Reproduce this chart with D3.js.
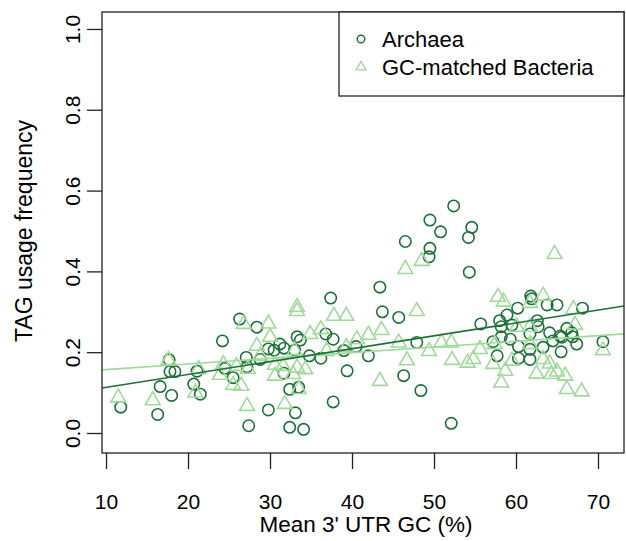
<!DOCTYPE html>
<html>
<head>
<meta charset="utf-8">
<script src="https://d3js.org/d3.v7.min.js"></script>
<style>
  body { margin: 0; background: #fff; }
  text { font-family: "Liberation Sans", Arial, Helvetica, sans-serif; fill: #000; }
</style>
</head>
<body>
<div id="chart-area"></div>
<script>
// values
let archaeaGC = [26.3, 28.4, 24.2, 17.7, 17.8, 18.4, 21.1, 16.6, 20.7, 21.5, 18.0, 11.8, 16.3,
    24.5, 25.5, 27.1, 27.2, 28.8, 29.8, 30.5, 31.2, 31.7, 27.4, 29.8,
    52.4, 49.5, 50.8, 54.6, 54.2, 46.5, 49.5, 49.4, 54.3, 43.4, 37.4, 61.8, 61.9, 63.8, 65.0,
    43.7, 45.7, 33.3, 33.7, 36.8, 37.7, 33.0, 34.8, 36.2, 39.0, 40.5, 42.0, 47.9, 39.4, 31.7,
    46.3, 48.4, 32.4, 33.5, 37.7, 33.1, 32.4, 34.1, 52.1,
    60.2, 68.1, 55.7, 58.0, 58.2, 58.9, 59.5, 62.6, 62.7, 66.2, 64.1, 65.4, 66.8, 66.9, 61.7,
    58.2, 59.3, 57.2, 64.5, 65.6, 67.4, 70.6, 60.3, 61.7, 63.3, 65.5, 57.7, 60.3, 61.7];
let archaeaTAG = [0.282, 0.262, 0.228, 0.181, 0.152, 0.152, 0.153, 0.115, 0.121, 0.096, 0.093, 0.064, 0.046,
    0.160, 0.137, 0.187, 0.164, 0.182, 0.208, 0.205, 0.220, 0.210, 0.018, 0.057,
    0.562, 0.527, 0.498, 0.509, 0.484, 0.474, 0.457, 0.436, 0.398, 0.361, 0.334, 0.339, 0.332, 0.317, 0.317,
    0.300, 0.286, 0.238, 0.230, 0.245, 0.232, 0.205, 0.191, 0.185, 0.204, 0.214, 0.191, 0.224, 0.154, 0.148,
    0.142, 0.105, 0.108, 0.113, 0.077, 0.050, 0.014, 0.009, 0.024,
    0.309, 0.309, 0.270, 0.278, 0.263, 0.292, 0.267, 0.278, 0.263, 0.259, 0.248, 0.240, 0.248, 0.238, 0.245,
    0.238, 0.232, 0.226, 0.228, 0.237, 0.220, 0.226, 0.214, 0.207, 0.212, 0.201, 0.191, 0.185, 0.182];

let bacteriaGC = [26.8, 29.8, 30.0, 28.4, 17.6, 21.3, 24.3, 23.9, 25.9, 25.5, 26.5, 27.2, 20.9, 11.5,
    15.7, 30.6, 30.6, 27.3, 28.8, 46.5, 48.5,
    33.3, 33.3, 37.8, 39.3, 47.9, 43.6, 36.2, 34.9, 40.6, 42.0, 45.7, 49.4, 33.0, 36.9, 39.3,
    46.7, 31.6, 33.3, 34.3, 32.8, 43.4, 33.5, 31.8,
    64.7, 57.8, 58.5, 63.3, 61.7, 67.0, 67.2, 60.1, 61.7, 50.9, 52.1, 55.6, 57.4, 61.7, 70.6,
    52.2, 54.1, 54.8, 57.2, 59.5, 63.3, 58.7, 62.5, 64.1, 64.3, 65.0, 66.0, 58.2, 66.2, 68.0];
let bacteriaTAG = [0.272, 0.273, 0.240, 0.218, 0.183, 0.160, 0.173, 0.146, 0.168, 0.121, 0.119, 0.069, 0.102, 0.090,
    0.083, 0.171, 0.144, 0.161, 0.193, 0.408, 0.428,
    0.314, 0.304, 0.292, 0.292, 0.304, 0.257, 0.259, 0.247, 0.234, 0.245, 0.226, 0.205, 0.207, 0.205, 0.215,
    0.182, 0.168, 0.164, 0.160, 0.148, 0.131, 0.111, 0.074,
    0.445, 0.339, 0.327, 0.342, 0.324, 0.309, 0.270, 0.265, 0.265, 0.226, 0.226, 0.210, 0.222, 0.222, 0.207,
    0.183, 0.176, 0.185, 0.173, 0.181, 0.185, 0.156, 0.149, 0.174, 0.148, 0.154, 0.144, 0.127, 0.111, 0.105];

// fitted lines: [intercept, slope]
let fitArchaea = [0.081, 0.00319];
let fitBacteria = [0.143, 0.0014];

let xTicks = [10, 20, 30, 40, 50, 60, 70];
let yTicks = [0, 0.2, 0.4, 0.6, 0.8, 1.0];
let seriesNames = ["Archaea", "GC-matched Bacteria"];

let dark = "#1b7037", light = "#a1d99b";

let margin = {left: 102, right: 2, top: 12, bottom: 88};
let width = 626 - margin.left - margin.right,
    height = 541 - margin.top - margin.bottom;

let svg = d3.select("#chart-area")
    .append("svg")
    .attr("width", 626)
    .attr("height", 541)
    .append("g")
    .attr("transform", "translate(" + margin.left + ", " + margin.top + ")");

let x = d3.scaleLinear().domain([9.51, 73.17]).range([0, width]);
let y = d3.scaleLinear().domain([-0.0495, 1.042]).range([height, 0]);

svg.append("clipPath").attr("id", "clip")
    .append("rect").attr("width", width).attr("height", height);

// X Axis
let xAxisGroup = svg.append("g")
    .attr("transform", `translate(0,${height})`)
    .call(d3.axisBottom(x).tickValues(xTicks).tickSize(16).tickPadding(25).tickFormat(d3.format("d")));

// Y Axis
let yAxisGroup = svg.append("g")
    .call(d3.axisLeft(y).tickValues(yTicks).tickSize(15).tickFormat(d3.format(".1f")));

[xAxisGroup, yAxisGroup].forEach(g => {
    g.select(".domain").remove();
    g.selectAll("line").attr("stroke", "#222").attr("stroke-width", 1.3);
    g.selectAll("text").attr("font-size", "21px").attr("fill", "#000")
        .style("font-family", "'Liberation Sans', Arial, sans-serif");
});
// rotated y tick labels, like R's default las
yAxisGroup.selectAll("text")
    .attr("text-anchor", "middle")
    .attr("transform", "rotate(-90)")
    .attr("x", 0)
    .attr("y", -22)
    .attr("dy", "0");

// axis titles
svg.append("text")
    .attr("x", 264)
    .attr("y", height + 79)
    .attr("text-anchor", "middle")
    .attr("font-size", "22.5px")
    .text("Mean 3' UTR GC (%)");

svg.append("text")
    .attr("transform", "rotate(-90)")
    .attr("x", -(y(0.5)))
    .attr("y", -70)
    .attr("text-anchor", "middle")
    .attr("font-size", "23px")
    .text("TAG usage frequency");

let plot = svg.append("g").attr("clip-path", "url(#clip)");

// archaea circles
plot.selectAll(".arch")
    .data(archaeaGC.map((v, i) => [v, archaeaTAG[i]]))
    .enter().append("circle")
    .attr("cx", d => x(d[0]))
    .attr("cy", d => y(d[1]))
    .attr("r", 5.7)
    .attr("fill", "none")
    .attr("stroke", dark)
    .attr("stroke-width", 1.6);

// bacteria triangles
let tri = d3.symbol().type(d3.symbolTriangle).size(95);
plot.selectAll(".bact")
    .data(bacteriaGC.map((v, i) => [v, bacteriaTAG[i]]))
    .enter().append("path")
    .attr("d", tri)
    .attr("transform", d => `translate(${x(d[0])},${y(d[1]) + 1})`)
    .attr("fill", "none")
    .attr("stroke", light)
    .attr("stroke-width", 1.6);

// regression lines
[[fitBacteria, light], [fitArchaea, dark]].forEach(([f, c]) => {
    let d0 = x.domain()[0], d1 = x.domain()[1];
    plot.append("line")
        .attr("x1", x(d0)).attr("y1", y(f[0] + f[1] * d0))
        .attr("x2", x(d1)).attr("y2", y(f[0] + f[1] * d1))
        .attr("stroke", c)
        .attr("stroke-width", 1.6);
});

// frame
svg.append("rect")
    .attr("width", width).attr("height", height)
    .attr("fill", "none").attr("stroke", "#222").attr("stroke-width", 1.3);

// legend
let lg = svg.append("g").attr("transform", `translate(${339 - margin.left},0)`);
lg.append("rect")
    .attr("width", width - (339 - margin.left)).attr("height", 84)
    .attr("fill", "#fff").attr("stroke", "#222").attr("stroke-width", 1.3);
lg.append("circle").attr("cx", 22).attr("cy", 27).attr("r", 3.8)
    .attr("fill", "none").attr("stroke", dark).attr("stroke-width", 1.4);
lg.append("path").attr("d", d3.symbol().type(d3.symbolTriangle).size(42))
    .attr("transform", "translate(22,55)")
    .attr("fill", "none").attr("stroke", light).attr("stroke-width", 1.4);
lg.selectAll(".lt").data(seriesNames).enter().append("text")
    .attr("x", 43)
    .attr("y", (d, i) => 35 + i * 28)
    .attr("font-size", "22px")
    .text(d => d);
</script>
</body>
</html>
